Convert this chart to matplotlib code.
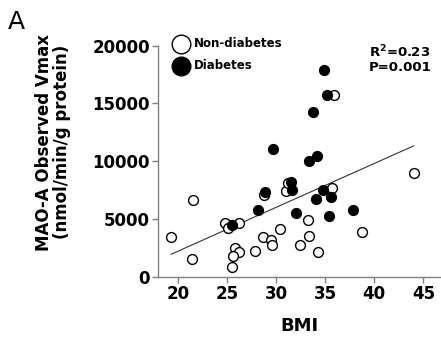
import numpy as np
import matplotlib
matplotlib.use('Agg')
from matplotlib import pyplot as plt

# Non-diabetes (open circles)
bmi_non = [19.3, 21.5, 21.4, 24.8, 25.1, 26.2, 25.8, 26.2, 25.6, 25.5, 27.9, 28.7, 28.8,
           29.5, 29.6, 30.4, 31.0, 31.2, 32.4, 33.2, 33.4, 34.3, 35.7, 35.9, 38.8, 44.0]
vmax_non = [3400, 6630, 1530, 4620, 4240, 4670, 2510, 2110, 1820, 865, 2250, 3400, 7090,
            3175, 2770, 4125, 7440, 8130, 2730, 4920, 3500, 2150, 7650, 15690, 3850, 8940]

# Diabetes (filled circles)
bmi_dia = [25.5, 28.2, 28.9, 29.7, 31.5, 31.6, 32.0, 33.4, 34.2, 34.1, 34.8, 35.4,
           34.9, 35.2, 33.8, 35.6, 37.8]
vmax_dia = [4470, 5770, 7300, 11030, 8220, 7500, 5540, 10030, 10470, 6710, 7530, 5260,
            17880, 15690, 14220, 6870, 5740]

x_ticks = [20, 25, 30, 35, 40, 45]
y_ticks = [0, 5000, 10000, 15000, 20000]

plt.rcParams['font.family'] = ['DejaVu Sans']

fig = plt.figure(figsize=(4.41, 3.45), dpi=100)
ax = fig.add_axes([0.359, 0.198, 0.641, 0.670])

# Regression line over all samples
all_x = np.array(bmi_non + bmi_dia)
all_y = np.array(vmax_non + vmax_dia)
slope, icpt = np.polyfit(all_x, all_y, 1)
fx = np.array([all_x.min(), all_x.max()])
ax.plot(fx, slope * fx + icpt, color='#333333', lw=0.8, zorder=1)

ax.scatter(bmi_non, vmax_non, s=50, facecolors='white', edgecolors='black',
           linewidths=1.0, zorder=2, label='Non-diabetes')
ax.scatter(bmi_dia, vmax_dia, s=50, facecolors='black', edgecolors='black',
           linewidths=1.0, zorder=3, label='Diabetes')

ax.set_xlim(18, 46.8)
ax.set_ylim(0, 20000)
ax.set_xticks(x_ticks)
ax.set_yticks(y_ticks)
ax.set_xticklabels([str(t) for t in x_ticks], fontsize=12, fontweight='bold')
ax.set_yticklabels([str(t) for t in y_ticks], fontsize=12, fontweight='bold')

for s in ['top', 'right']:
    ax.spines[s].set_visible(False)
for s in ['left', 'bottom']:
    ax.spines[s].set_color('#808080')
    ax.spines[s].set_linewidth(1.0)
ax.tick_params(direction='out', length=4, width=1, color='#808080', pad=2)

ax.set_xlabel('BMI', fontsize=13, fontweight='bold', labelpad=10)
fig.text(0.120, 0.588, 'MAO-A Observed Vmax\n(nmol/min/g protein)', rotation=90,
         ha='center', va='center', fontsize=12, fontweight='bold', linespacing=1.0)

leg = ax.legend(loc='upper left', bbox_to_anchor=(0.02, 1.058), frameon=False,
                markerscale=1.9, handletextpad=0.1, labelspacing=0.78,
                prop={'weight': 'bold', 'size': 8.5}, borderaxespad=0)

ax.text(0.745, 0.97, r'R$^\mathbf{2}$=0.23', transform=ax.transAxes,
        fontsize=9.5, fontweight='bold', va='center', ha='left')
ax.text(0.745, 0.905, 'P=0.001', transform=ax.transAxes,
        fontsize=9.5, fontweight='bold', va='center', ha='left')

fig.text(0.018, 0.935, 'A', fontsize=18, ha='left', va='center')

fig.savefig('out.png', dpi=100)
